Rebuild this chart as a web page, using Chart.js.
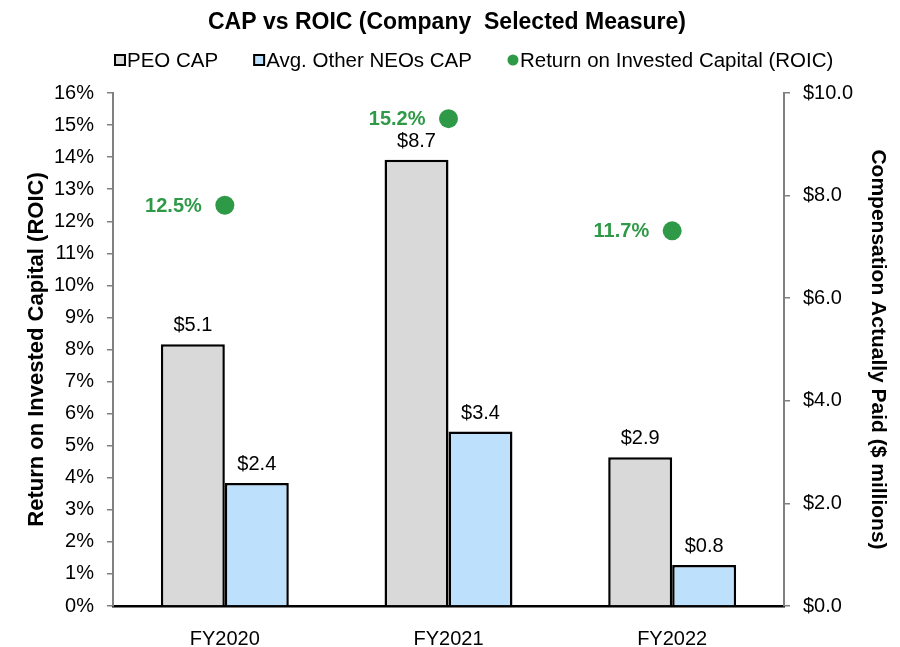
<!DOCTYPE html>
<html>
<head>
<meta charset="utf-8">
<script src="https://cdn.jsdelivr.net/npm/chart.js@4.4.1/dist/chart.umd.min.js"></script>
<style>
  html, body { margin: 0; padding: 0; background: #fff; }
  #wrap { width: 900px; height: 647px; }
</style>
</head>
<body>
<div id="wrap"><canvas id="chart" width="900" height="647"></canvas></div>
<script>
// dados
const categories = ['FY2020', 'FY2021', 'FY2022'];
const peoCap = [5.1, 8.7, 2.9];
const otherNeoCap = [2.4, 3.4, 0.8];
const roic = [12.5, 15.2, 11.7];
const leftTicks = [0, 16, 1];
const rightTicks = [0, 10, 2];

const FONT = "'Liberation Sans', Arial, sans-serif";

// rótulos de dados
const labelsPlugin = {
  id: 'valueLabels',
  afterDatasetsDraw(chart) {
    const ctx = chart.ctx;
    ctx.save();
    chart.data.datasets.forEach((ds, i) => {
      const meta = chart.getDatasetMeta(i);
      meta.data.forEach((el, j) => {
        const v = ds.data[j];
        if (ds.type === 'bar') {
          ctx.font = '20px ' + FONT;
          ctx.fillStyle = '#000';
          ctx.textAlign = 'center';
          ctx.textBaseline = 'alphabetic';
          ctx.fillText('$' + v.toFixed(1), el.x, el.y - 13);
        } else {
          ctx.font = 'bold 20px ' + FONT;
          ctx.fillStyle = '#2e9a47';
          ctx.textAlign = 'right';
          ctx.textBaseline = 'middle';
          ctx.fillText(v.toFixed(1) + '%', el.x - 23, el.y + 1);
        }
      });
    });
    ctx.restore();
  }
};

// legenda desenhada à mão (posições do original)
const legendPlugin = {
  id: 'customLegend',
  afterDraw(chart) {
    const ctx = chart.ctx;
    ctx.save();
    ctx.font = '20.5px ' + FONT;
    ctx.textBaseline = 'middle';
    ctx.textAlign = 'left';
    let x = 115;
    const y = 60;
    chart.data.datasets.forEach(ds => {
      if (ds.type === 'bar') {
        ctx.fillStyle = ds.backgroundColor;
        ctx.fillRect(x, y - 5, 10, 10);
        ctx.strokeStyle = '#000';
        ctx.lineWidth = 2;
        ctx.strokeRect(x, y - 5, 10, 10);
      } else {
        ctx.fillStyle = ds.backgroundColor;
        ctx.beginPath();
        ctx.arc(x + 5, y, 5.5, 0, Math.PI * 2);
        ctx.fill();
      }
      ctx.fillStyle = '#000';
      ctx.fillText(ds.label, x + 12, y + 1);
      x += 12 + ctx.measureText(ds.label).width + 36;
    });
    ctx.restore();
  }
};

const ctx = document.getElementById('chart').getContext('2d');
new Chart(ctx, {
  data: {
    labels: categories,
    datasets: [
      {
        type: 'bar', label: 'PEO CAP', data: peoCap, yAxisID: 'y1',
        backgroundColor: '#d9d9d9', borderColor: '#000', borderWidth: 2.5,
        categoryPercentage: 0.572, barPercentage: 1.0
      },
      {
        type: 'bar', label: 'Avg. Other NEOs CAP', data: otherNeoCap, yAxisID: 'y1',
        backgroundColor: '#bde0fc', borderColor: '#000', borderWidth: 2.5,
        categoryPercentage: 0.572, barPercentage: 1.0
      },
      {
        type: 'line', label: 'Return on Invested Capital (ROIC)', data: roic, yAxisID: 'y',
        showLine: false, pointStyle: 'circle', pointRadius: 9.5,
        backgroundColor: '#2e9a47', borderColor: '#2e9a47', pointBorderWidth: 0
      }
    ]
  },
  options: {
    responsive: false,
    animation: false,
    layout: { padding: { left: 0, right: 6, top: 0, bottom: 0 } },
    plugins: {
      title: {
        display: true, text: 'CAP vs ROIC (Company  Selected Measure)',
        color: '#000', font: { family: FONT, size: 23, weight: 'bold' },
        padding: { top: 9, bottom: 56.4 }
      },
      legend: { display: false },
      tooltip: { enabled: false }
    },
    scales: {
      x: {
        grid: { display: false },
        border: { color: '#000', width: 2.5 },
        ticks: { color: '#000', font: { family: FONT, size: 20 }, padding: 13 },
        afterFit: s => { s.height = 41; }
      },
      y: {
        position: 'left', min: leftTicks[0], max: leftTicks[1],
        grid: { drawOnChartArea: false, tickLength: 6, color: '#808080', lineWidth: 1.5 },
        border: { color: '#808080', width: 2 },
        ticks: {
          stepSize: leftTicks[2], color: '#000', padding: 13,
          font: { family: FONT, size: 20 },
          callback: v => v + '%'
        },
        title: {
          display: true, text: 'Return on Invested Capital (ROIC)', color: '#000',
          font: { family: FONT, size: 22, weight: 'bold' }, padding: { top: 24, bottom: 24 }
        },
        afterFit: s => { s.width = 113; }
      },
      y1: {
        position: 'right', min: rightTicks[0], max: rightTicks[1],
        grid: { drawOnChartArea: false, tickLength: 6, color: '#808080', lineWidth: 1.5 },
        border: { color: '#808080', width: 2 },
        ticks: {
          stepSize: rightTicks[2], color: '#000', padding: 13,
          font: { family: FONT, size: 20 },
          callback: v => '$' + v.toFixed(1)
        },
        title: {
          display: true, text: 'Compensation Actually Paid ($ millions)', color: '#000',
          font: { family: FONT, size: 21, weight: 'bold' }, padding: { top: 3.5, bottom: 3.5 }
        },
        afterFit: s => { s.width = 110; }
      }
    }
  },
  plugins: [labelsPlugin, legendPlugin]
});
</script>
</body>
</html>
